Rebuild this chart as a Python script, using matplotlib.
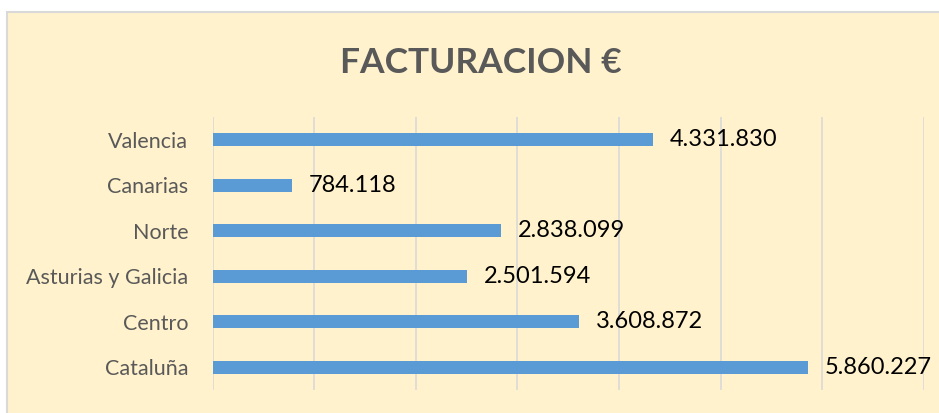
import matplotlib.pyplot as plt
from matplotlib.patches import Rectangle

regiones = ['Cataluña', 'Centro', 'Asturias y Galicia', 'Norte', 'Canarias', 'Valencia']
facturacion = [5860227, 3608872, 2501594, 2838099, 784118, 4331830]
grid_ticks = [0, 1000000, 2000000, 3000000, 4000000, 5000000, 6000000, 7000000]

plt.rcParams['font.family'] = ['Lato', 'DejaVu Sans']

W, H = 939, 413
fig = plt.figure(figsize=(W / 100, H / 100), dpi=100)
fig.patch.set_facecolor('white')

# chart area (cut off on the right and bottom in the original)
fig.patches.append(Rectangle((7 / W, -0.1), 1.1, (H - 12) / H + 0.1,
                             transform=fig.transFigure, facecolor='#FFF2CC',
                             edgecolor='#D9D9D9', linewidth=1.5, zorder=-5))

ax = fig.add_axes([212.5 / W, (H - 390) / H, (924 - 212.5) / W, (390 - 117) / H])
ax.set_facecolor('none')
ax.set_zorder(2)

y = range(len(regiones))
ax.barh(y, facturacion, height=0.29, color='#5B9BD5', zorder=3)
for yi, v in zip(y, facturacion):
    txt = f'{v:,}'.replace(',', '.')
    ax.annotate(txt, (v, yi), xytext=(17, 0), textcoords='offset pixels',
                va='center', ha='left', fontsize=17, color='black')

ax.set_xlim(0, 7000000)
ax.set_ylim(-0.5, len(regiones) - 0.5)
ax.set_xticks(grid_ticks)
ax.set_xticklabels([])
ax.set_yticks(list(y))
ax.set_yticklabels(regiones, fontsize=15.5, color='#595959')
ax.tick_params(length=0, pad=17.5)
ax.grid(axis='x', color='#D9D9D9', linewidth=1.2, zorder=0)
for s in ax.spines.values():
    s.set_visible(False)

fig.text(481 / W, (H - 73) / H, 'FACTURACION €', ha='center', va='baseline',
         fontsize=25.5, fontweight='bold', color='#595959', zorder=3)

fig.savefig('out.png', dpi=100)
